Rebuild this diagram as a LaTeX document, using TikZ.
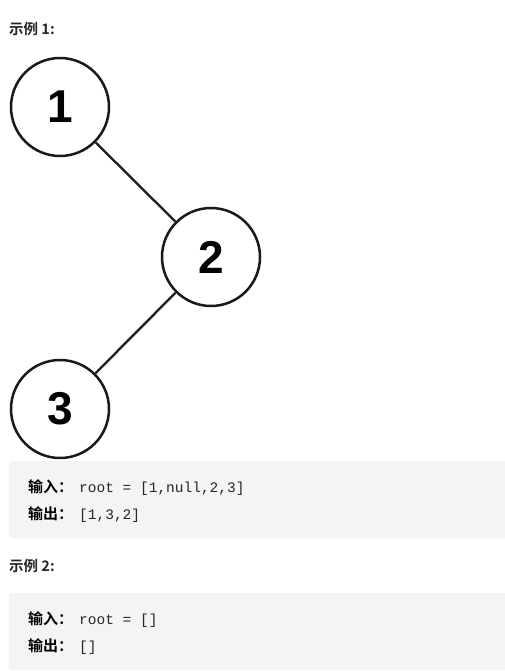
\documentclass[tikz,border=0pt]{standalone}
\usepackage{fontspec}
\setmainfont{Liberation Sans}
\newfontfamily\cjkb[BoldFont=Noto Sans CJK SC Bold]{Noto Sans CJK SC}
\newfontfamily\monof{Liberation Mono}
\newfontfamily\digitf{Liberation Sans}
\definecolor{boxgray}{RGB}{244,244,244}
\definecolor{txt}{RGB}{38,38,38}
\begin{document}
\begin{tikzpicture}[x=1pt,y=-1pt,
  treenode/.style={circle,draw=black!90,line width=2.5pt,minimum size=98pt,inner sep=0pt,
    font=\digitf\bfseries\fontsize{46}{46}\selectfont},
  edge/.style={line width=2.3pt,draw=black!88},
  heading/.style={anchor=base west,inner sep=0pt,text=txt,font=\cjkb\bfseries\fontsize{14.5}{16}\selectfont},
  cjklabel/.style={anchor=base west,inner sep=0pt,text=black,font=\cjkb\bfseries\fontsize{15}{16}\selectfont},
  codeval/.style={anchor=base west,inner sep=0pt,text=txt,font=\monof\fontsize{14.5}{16}\selectfont},
  codebox/.style={fill=boxgray,rounded corners=3pt,draw=none}]
\useasboundingbox[fill=white] (0,0) rectangle (505,671);

\node[heading] (h1) at (9,35) {示例 1:};

\node[treenode] (n1) at (60,107) {1};
\node[treenode] (n2) at (211,257) {2};
\node[treenode] (n3) at (60,409) {3};
\draw[edge] (n1) -- (n2);
\draw[edge] (n2) -- (n3);

\path[codebox] (9,461) rectangle (512,538);
\node[cjklabel] (in1) at (28,492) {输入：};
\node[codeval] (v1) at (79,492) {root = [1,null,2,3]};
\node[cjklabel] (out1) at (28,519) {输出：};
\node[codeval] (w1) at (79,519) {[1,3,2]};

\node[heading] (h2) at (9,571) {示例 2:};

\path[codebox] (9,593) rectangle (512,670);
\node[cjklabel] (in2) at (28,624) {输入：};
\node[codeval] (v2) at (79,624) {root = []};
\node[cjklabel] (out2) at (28,651) {输出：};
\node[codeval] (w2) at (79,651) {[]};
\end{tikzpicture}
\end{document}
